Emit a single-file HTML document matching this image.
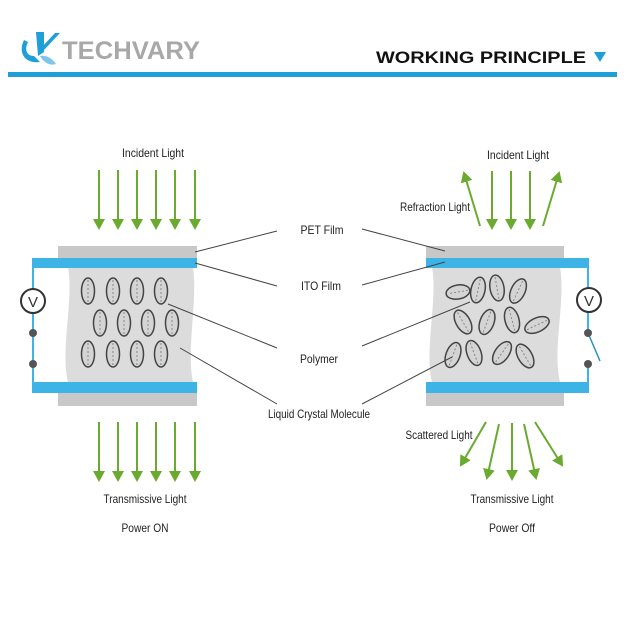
<!DOCTYPE html>
<html><head><meta charset="utf-8"><style>
html,body{margin:0;padding:0;background:#fff;}
svg{display:block;}
text{font-family:"Liberation Sans",Arial,sans-serif;}
</style></head><body>
<svg width="627" height="627" viewBox="0 0 627 627" xmlns="http://www.w3.org/2000/svg">
<defs>
<marker id="ah" markerWidth="12" markerHeight="12" refX="9" refY="6" orient="auto" markerUnits="userSpaceOnUse">
<path d="M0,0 L11,6 L0,12 Z" fill="#6aaa2e"/>
</marker>
</defs>
<rect width="627" height="627" fill="#fff"/>
<!-- header -->
<path d="M24,40 C18,52 24,64 40,62 L34,56 C27,56 24,50 28,42 Z" fill="#1e9fd8"/>
<path d="M36,32 L44,32 L44,52 L38,56 Z" fill="#1e9fd8"/>
<path d="M44,50 L60,33 L55,33 L42,47 Z" fill="#1e9fd8"/>
<path d="M40,56 C46,55 52,58 56,64 C50,66 44,63 40,56 Z" fill="#7cc6ea"/>
<text x="62" y="59" font-size="25" font-weight="bold" fill="#a8a8a8" textLength="138" lengthAdjust="spacingAndGlyphs">TECHVARY</text>
<text x="376" y="63" font-size="17" font-weight="bold" fill="#111" textLength="210" lengthAdjust="spacingAndGlyphs">WORKING PRINCIPLE</text>
<path d="M594,52 L606,52 L600,62 Z" fill="#1e9fd8"/>
<rect x="8" y="72" width="609" height="5" fill="#1e9fd8"/>

<!-- LEFT PANEL -->
<rect x="58" y="246" width="139" height="13" fill="#c8c8c8"/>
<path d="M68,267 L193,267 C198,300 186,350 193,382 L68,382 C60,350 74,300 68,267 Z" fill="#dcdcdc"/>
<rect x="58" y="392" width="139" height="14" fill="#c8c8c8"/>
<rect x="32" y="258" width="165" height="10" fill="#3db3e6"/>
<rect x="32" y="382" width="165" height="11" fill="#3db3e6"/>
<line x1="33" y1="258" x2="33" y2="393" stroke="#3db3e6" stroke-width="2"/>
<circle cx="33" cy="301" r="12" fill="#fff" stroke="#333" stroke-width="2"/>
<text x="33" y="307" font-size="15" text-anchor="middle" fill="#333">V</text>
<circle cx="33" cy="333" r="4" fill="#555"/>
<circle cx="33" cy="364" r="4" fill="#555"/>
<g fill="#d4d4d4" stroke="#444" stroke-width="1.5">
<ellipse cx="88" cy="291" rx="6.5" ry="13"/><ellipse cx="113" cy="291" rx="6.5" ry="13"/><ellipse cx="137" cy="291" rx="6.5" ry="13"/><ellipse cx="161" cy="291" rx="6.5" ry="13"/>
<ellipse cx="100" cy="323" rx="6.5" ry="13"/><ellipse cx="124" cy="323" rx="6.5" ry="13"/><ellipse cx="148" cy="323" rx="6.5" ry="13"/><ellipse cx="172" cy="323" rx="6.5" ry="13"/>
<ellipse cx="88" cy="354" rx="6.5" ry="13"/><ellipse cx="113" cy="354" rx="6.5" ry="13"/><ellipse cx="137" cy="354" rx="6.5" ry="13"/><ellipse cx="161" cy="354" rx="6.5" ry="13"/>
</g>
<g stroke="#888" stroke-width="1" stroke-dasharray="2,2">
<line x1="88" y1="280" x2="88" y2="302"/><line x1="113" y1="280" x2="113" y2="302"/><line x1="137" y1="280" x2="137" y2="302"/><line x1="161" y1="280" x2="161" y2="302"/>
<line x1="100" y1="312" x2="100" y2="334"/><line x1="124" y1="312" x2="124" y2="334"/><line x1="148" y1="312" x2="148" y2="334"/><line x1="172" y1="312" x2="172" y2="334"/>
<line x1="88" y1="343" x2="88" y2="365"/><line x1="113" y1="343" x2="113" y2="365"/><line x1="137" y1="343" x2="137" y2="365"/><line x1="161" y1="343" x2="161" y2="365"/>
</g>
<g stroke="#6aaa2e" stroke-width="2" marker-end="url(#ah)">
<line x1="99" y1="170" x2="99" y2="228"/><line x1="118" y1="170" x2="118" y2="228"/><line x1="137" y1="170" x2="137" y2="228"/><line x1="156" y1="170" x2="156" y2="228"/><line x1="175" y1="170" x2="175" y2="228"/><line x1="195" y1="170" x2="195" y2="228"/>
<line x1="99" y1="422" x2="99" y2="480"/><line x1="118" y1="422" x2="118" y2="480"/><line x1="137" y1="422" x2="137" y2="480"/><line x1="156" y1="422" x2="156" y2="480"/><line x1="175" y1="422" x2="175" y2="480"/><line x1="195" y1="422" x2="195" y2="480"/>
</g>
<g font-size="12" fill="#222" text-anchor="middle" lengthAdjust="spacingAndGlyphs">
<text x="153" y="157" textLength="62" lengthAdjust="spacingAndGlyphs">Incident Light</text>
<text x="145" y="503" textLength="83" lengthAdjust="spacingAndGlyphs">Transmissive Light</text>
<text x="145" y="532" textLength="47" lengthAdjust="spacingAndGlyphs">Power ON</text>
</g>

<!-- RIGHT PANEL -->
<rect x="426" y="246" width="138" height="13" fill="#c8c8c8"/>
<path d="M432,267 L560,267 C566,300 552,350 560,382 L432,382 C424,350 438,300 432,267 Z" fill="#dcdcdc"/>
<rect x="426" y="392" width="138" height="14" fill="#c8c8c8"/>
<rect x="426" y="258" width="163" height="10" fill="#3db3e6"/>
<rect x="426" y="382" width="163" height="11" fill="#3db3e6"/>
<line x1="588" y1="258" x2="588" y2="333" stroke="#3db3e6" stroke-width="2"/>
<line x1="588" y1="364" x2="588" y2="393" stroke="#3db3e6" stroke-width="2"/>
<line x1="588" y1="333" x2="600" y2="361" stroke="#2a8fc0" stroke-width="1.5"/>
<circle cx="589" cy="300" r="12" fill="#fff" stroke="#333" stroke-width="2"/>
<text x="589" y="306" font-size="15" text-anchor="middle" fill="#333">V</text>
<circle cx="588" cy="333" r="4" fill="#555"/>
<circle cx="588" cy="364" r="4" fill="#555"/>
<g fill="#d4d4d4" stroke="#444" stroke-width="1.5">
<g transform="translate(458,292) rotate(80)"><ellipse rx="7" ry="12"/><line x1="0" y1="-10" x2="0" y2="10" stroke="#888" stroke-width="1" stroke-dasharray="2,2"/></g>
<g transform="translate(478,290) rotate(12)"><ellipse rx="7" ry="13"/><line x1="0" y1="-11" x2="0" y2="11" stroke="#888" stroke-width="1" stroke-dasharray="2,2"/></g>
<g transform="translate(497,288) rotate(-10)"><ellipse rx="7" ry="13"/><line x1="0" y1="-11" x2="0" y2="11" stroke="#888" stroke-width="1" stroke-dasharray="2,2"/></g>
<g transform="translate(518,291) rotate(25)"><ellipse rx="7" ry="13"/><line x1="0" y1="-11" x2="0" y2="11" stroke="#888" stroke-width="1" stroke-dasharray="2,2"/></g>
<g transform="translate(463,322) rotate(-30)"><ellipse rx="7" ry="13"/><line x1="0" y1="-11" x2="0" y2="11" stroke="#888" stroke-width="1" stroke-dasharray="2,2"/></g>
<g transform="translate(487,322) rotate(20)"><ellipse rx="7" ry="13"/><line x1="0" y1="-11" x2="0" y2="11" stroke="#888" stroke-width="1" stroke-dasharray="2,2"/></g>
<g transform="translate(512,320) rotate(-15)"><ellipse rx="7" ry="13"/><line x1="0" y1="-11" x2="0" y2="11" stroke="#888" stroke-width="1" stroke-dasharray="2,2"/></g>
<g transform="translate(537,325) rotate(65)"><ellipse rx="7" ry="13"/><line x1="0" y1="-11" x2="0" y2="11" stroke="#888" stroke-width="1" stroke-dasharray="2,2"/></g>
<g transform="translate(453,355) rotate(20)"><ellipse rx="7" ry="13"/><line x1="0" y1="-11" x2="0" y2="11" stroke="#888" stroke-width="1" stroke-dasharray="2,2"/></g>
<g transform="translate(474,353) rotate(-20)"><ellipse rx="7" ry="13"/><line x1="0" y1="-11" x2="0" y2="11" stroke="#888" stroke-width="1" stroke-dasharray="2,2"/></g>
<g transform="translate(502,353) rotate(35)"><ellipse rx="7" ry="13"/><line x1="0" y1="-11" x2="0" y2="11" stroke="#888" stroke-width="1" stroke-dasharray="2,2"/></g>
<g transform="translate(525,356) rotate(-30)"><ellipse rx="7" ry="13"/><line x1="0" y1="-11" x2="0" y2="11" stroke="#888" stroke-width="1" stroke-dasharray="2,2"/></g>
</g>
<g stroke="#6aaa2e" stroke-width="2" marker-end="url(#ah)">
<line x1="492" y1="171" x2="492" y2="228"/><line x1="511" y1="171" x2="511" y2="228"/><line x1="530" y1="171" x2="530" y2="228"/>
<line x1="480" y1="226" x2="464" y2="173"/><line x1="543" y1="226" x2="559" y2="173"/>
<line x1="486" y1="422" x2="461" y2="465"/><line x1="499" y1="424" x2="487" y2="478"/><line x1="512" y1="423" x2="512" y2="479"/><line x1="524" y1="424" x2="536" y2="478"/><line x1="535" y1="422" x2="562" y2="465"/>
</g>
<g font-size="12" fill="#222" text-anchor="middle">
<text x="518" y="159" textLength="62" lengthAdjust="spacingAndGlyphs">Incident Light</text>
<text x="435" y="211" textLength="70" lengthAdjust="spacingAndGlyphs">Refraction Light</text>
<text x="439" y="439" textLength="67" lengthAdjust="spacingAndGlyphs">Scattered Light</text>
<text x="512" y="503" textLength="83" lengthAdjust="spacingAndGlyphs">Transmissive Light</text>
<text x="512" y="532" textLength="46" lengthAdjust="spacingAndGlyphs">Power Off</text>
</g>

<!-- center labels & leaders -->
<g stroke="#444" stroke-width="1">
<line x1="195" y1="252" x2="277" y2="231"/><line x1="362" y1="229" x2="445" y2="251"/>
<line x1="195" y1="263" x2="277" y2="286"/><line x1="362" y1="285" x2="445" y2="262"/>
<line x1="168" y1="304" x2="277" y2="348"/><line x1="362" y1="346" x2="470" y2="302"/>
<line x1="180" y1="348" x2="277" y2="404"/><line x1="362" y1="404" x2="452" y2="357"/>
</g>
<g font-size="12" fill="#222" text-anchor="middle">
<text x="322" y="234" textLength="43" lengthAdjust="spacingAndGlyphs">PET Film</text>
<text x="321" y="290" textLength="40" lengthAdjust="spacingAndGlyphs">ITO Film</text>
<text x="319" y="363" textLength="38" lengthAdjust="spacingAndGlyphs">Polymer</text>
<text x="319" y="418" textLength="102" lengthAdjust="spacingAndGlyphs">Liquid Crystal Molecule</text>
</g>
</svg>
</body></html>
